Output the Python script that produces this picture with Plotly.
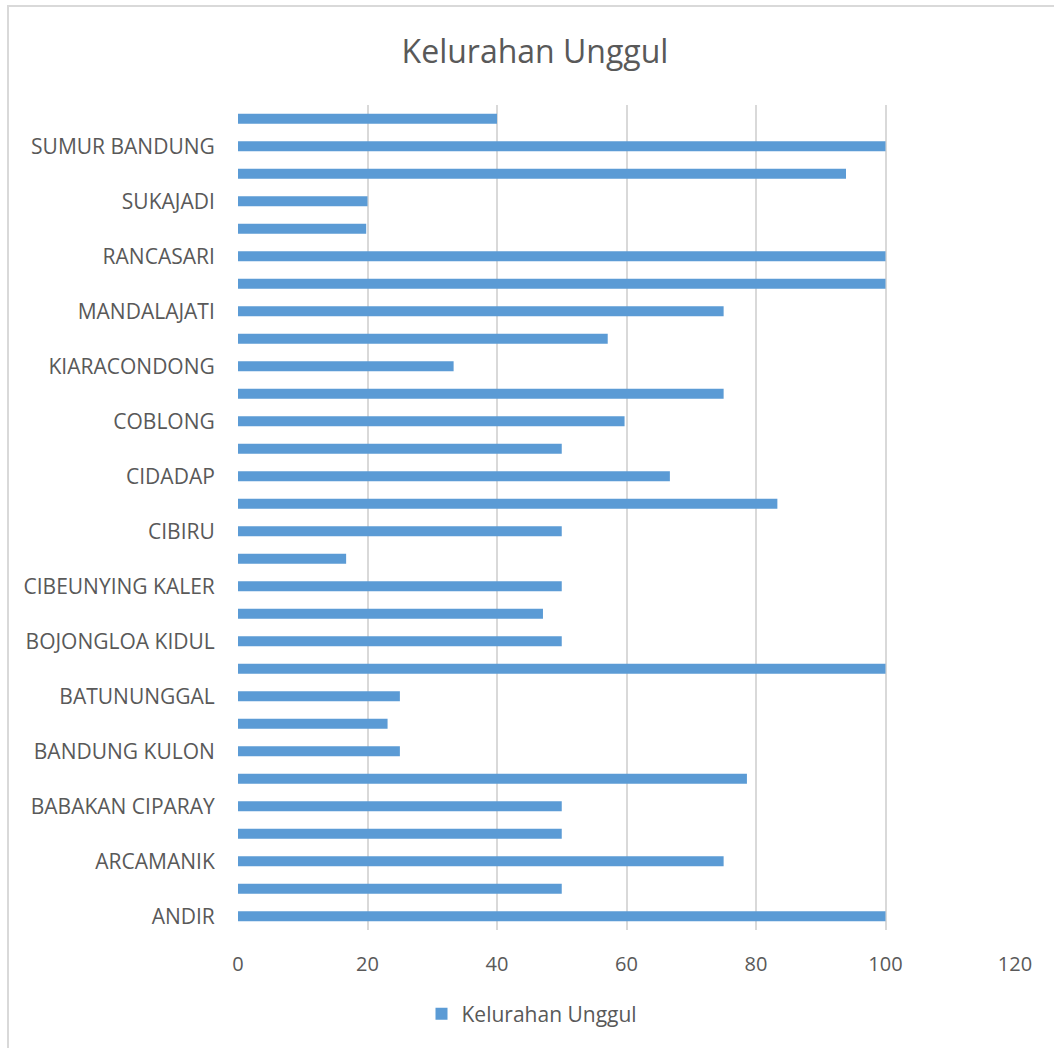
import plotly.graph_objects as go

categories = [
    "ANDIR", "ANTAPANI", "ARCAMANIK", "ASTANA ANYAR", "BABAKAN CIPARAY",
    "BANDUNG KIDUL", "BANDUNG KULON", "BANDUNG WETAN", "BATUNUNGGAL", "BOJONGLOA KALER",
    "BOJONGLOA KIDUL", "BUAHBATU", "CIBEUNYING KALER", "CIBEUNYING KIDUL", "CIBIRU",
    "CICENDO", "CIDADAP", "CINAMBO", "COBLONG", "GEDEBAGE",
    "KIARACONDONG", "LENGKONG", "MANDALAJATI", "PANYILEUKAN", "RANCASARI",
    "REGOL", "SUKAJADI", "SUKASARI", "SUMUR BANDUNG", "UJUNGBERUNG",
]
values = [
    100, 50, 75, 50, 50,
    78.6, 25, 23.1, 25, 100,
    50, 47.1, 50, 16.7, 50,
    83.3, 66.7, 50, 59.7, 75,
    33.3, 57.1, 75, 100, 100,
    19.8, 20, 93.9, 100, 40,
]
tick_labels = categories[::2]
x_ticks = [0, 20, 40, 60, 80, 100, 120]
series_name = "Kelurahan Unggul"
title_text = "Kelurahan Unggul"

FONT = "Open Sans"
TXT = "#595959"

fig = go.Figure(go.Bar(
    y=categories, x=values, orientation="h", name=series_name,
    marker=dict(color="#5B9BD5", line=dict(width=0)),
    showlegend=True,
))

W, H = 1054, 1048
L, R, T, B = 238, 39, 105, 118
pw = W - L - R
ph = H - T - B

fig.update_layout(
    width=W, height=H,
    margin=dict(l=L, r=R, t=T, b=B),
    paper_bgcolor="white", plot_bgcolor="white",
    font=dict(family=FONT, color=TXT, size=20),
    bargap=0.64,
    title=dict(text=title_text, x=535 / W, xanchor="center",
               y=1 - 52 / H, yanchor="middle",
               font=dict(family=FONT, size=32, color=TXT)),
    xaxis=dict(range=[0, 120], tickvals=x_ticks, showgrid=True,
               gridcolor="#D9D9D9", gridwidth=1.5, zeroline=False,
               showline=False, ticks="outside", ticklen=16,
               tickcolor="rgba(0,0,0,0)", tickfont=dict(size=20, color=TXT),
               fixedrange=True),
    yaxis=dict(type="category", categoryorder="array", categoryarray=categories,
               tickmode="array", tickvals=tick_labels, ticktext=tick_labels,
               showgrid=False, showline=False, zeroline=False,
               ticks="outside", ticklen=18, tickcolor="rgba(0,0,0,0)",
               tickfont=dict(size=21, color=TXT), fixedrange=True),
    legend=dict(orientation="h", x=(532 - L) / pw, xanchor="center",
                y=(930 - 1014) / ph, yanchor="middle",
                font=dict(size=21, color=TXT), bgcolor="rgba(0,0,0,0)"),
    shapes=[dict(type="rect", xref="paper", yref="paper",
                 x0=(8 - L) / pw, x1=(1070 - L) / pw,
                 y0=(930 - 1070) / ph, y1=(930 - 6) / ph,
                 line=dict(color="#D9D9D9", width=2), fillcolor="rgba(0,0,0,0)",
                 layer="below")],
)

fig.write_html("out.html")
